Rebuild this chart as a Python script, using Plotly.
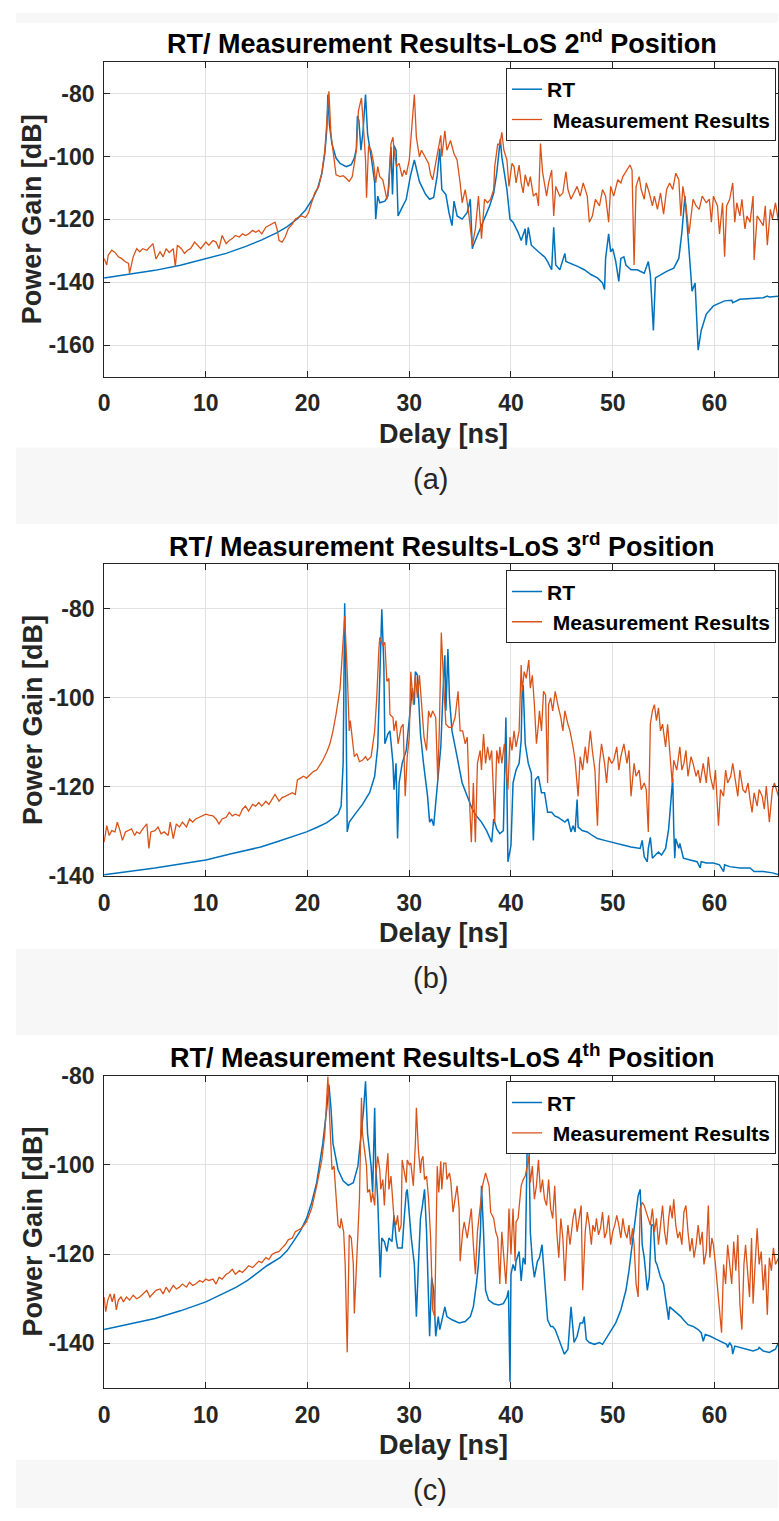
import plotly.graph_objects as go

# ---------------- data (delay in ns, power gain in dB) ----------------
A_RT_DELAY = [0, 2.5, 5, 7.5, 10, 12, 14, 15.5, 17, 18,
              19, 19.8, 20.5, 21, 21.4, 21.7, 21.9, 22.0, 22.15, 22.4,
              22.8, 23.2, 23.8, 24.3, 24.6, 24.8, 24.9, 25.05, 25.25, 25.45,
              25.7, 25.9, 26.3, 26.6, 26.7, 26.9, 27.1, 27.6, 27.9, 28.2,
              28.35, 28.5, 28.7, 28.9, 29.2, 29.7, 30.1, 30.5, 31.0, 31.6,
              32.0, 32.4, 32.75, 33.0, 33.2, 33.6, 33.9, 34.2, 34.4, 34.7,
              35.2, 35.7, 36.0, 36.2, 36.3, 36.8, 37.5, 37.9, 38.3, 38.6,
              38.8, 38.95, 39.1, 39.6, 39.9, 40.2, 40.7, 41.0, 41.4, 41.5,
              41.7, 42.0, 42.7, 43.3, 43.6, 44.0, 44.2, 44.4, 44.8, 45.3,
              45.4, 45.9, 46.6, 47.2, 47.9, 48.5, 49.0, 49.2, 49.3, 49.6,
              49.8, 50.0, 50.3, 50.6, 50.8, 51.1, 51.3, 51.8, 52.4, 53.1,
              53.5, 53.7, 54.0, 54.2, 54.7, 55.3, 56.0, 56.5, 56.8, 57.1,
              57.3, 57.6, 57.8, 58.1, 58.3, 58.4, 58.7, 59.2, 59.9, 60.5,
              61.0, 61.7, 61.8, 62.5, 63.4, 64.8, 65.2, 65.4, 66.3]
A_RT_GAIN = [-138.6, -137.5, -136.2, -134.6, -132.6, -130.8, -128.5, -126.5, -124.2, -122.3,
             -119.8, -117.0, -113.5, -110.0, -105.5, -99.0, -91.0, -80.3, -90.0, -96.0,
             -100.5, -102.2, -103.2, -102.6, -100.5, -97.5, -87.1, -88.6, -98.0, -92.0,
             -80.3, -92.8, -101.1, -108.4, -119.9, -112.6, -114.7, -114.2, -112.6, -97.0,
             -112.1, -96.5, -98.0, -118.9, -116.8, -113.6, -106.4, -101.1, -108.0, -112.0,
             -113.6, -113.0, -106.0, -97.5, -110.5, -112.1, -117.8, -122.0, -114.2, -118.9,
             -119.9, -117.8, -113.6, -129.3, -128.2, -124.1, -118.9, -115.7, -111.6, -105.3,
             -99.1, -94.4, -100.1, -110.5, -119.9, -120.9, -124.1, -126.7, -123.0, -128.2,
             -122.5, -128.2, -130.3, -131.9, -133.4, -136.0, -122.5, -134.5, -136.0, -130.8,
             -133.4, -134.0, -135.0, -136.0, -137.6, -138.6, -140.2, -142.3, -132.4, -124.6,
             -130.3, -129.3, -133.4, -139.7, -132.4, -131.9, -134.5, -136.0, -136.0, -137.1,
             -133.4, -137.6, -155.3, -138.6, -137.6, -136.5, -135.5, -132.4, -124.1, -112.6,
             -120.9, -133.4, -142.8, -140.2, -156.4, -161.6, -155.3, -150.1, -147.5, -146.5,
             -145.9, -145.7, -146.5, -145.4, -145.2, -144.9, -144.4, -144.7, -144.4]

A_MEAS_DELAY = [0, 0.26, 0.4, 0.75, 1.07, 1.4, 1.7, 2.05, 2.4, 2.5,
                2.86, 3.2, 3.5, 3.8, 4.2, 4.5, 4.8, 5.1, 5.5, 5.8,
                6.1, 6.4, 6.8, 7.0, 7.2, 7.6, 7.9, 8.2, 8.5, 8.9,
                9.2, 9.5, 10.0, 10.3, 10.7, 11.0, 11.3, 11.6, 12.0, 12.3,
                12.6, 12.9, 13.3, 13.6, 13.9, 14.2, 14.6, 14.9, 15.2, 15.5,
                15.9, 16.2, 16.5, 16.8, 17.0, 17.2, 17.5, 17.8, 18.1, 18.5,
                18.8, 19.1, 19.4, 19.8, 20.1, 20.4, 20.7, 21.1, 21.4, 21.7,
                21.9, 22.1, 22.3, 22.6, 22.8, 23.2, 23.5, 23.8, 24.1, 24.4,
                24.8, 25.0, 25.3, 25.5, 25.7, 25.8, 26.0, 26.25, 26.5, 26.7,
                26.9, 27.1, 27.4, 27.6, 27.8, 28.0, 28.2, 28.4, 28.5, 28.75,
                29.0, 29.3, 29.5, 29.7, 30.0, 30.2, 30.5, 30.7, 31.0, 31.2,
                31.4, 31.7, 31.9, 32.1, 32.3, 32.6, 32.9, 33.1, 33.2, 33.5,
                33.7, 34.05, 34.4, 34.7, 35.0, 35.2, 35.5, 35.8, 36.2, 36.5,
                36.8, 37.1, 37.4, 37.7, 38.0, 38.3, 38.4, 38.7, 38.9, 39.1,
                39.3, 39.6, 39.8, 40.1, 40.3, 40.5, 40.8, 41.0, 41.2, 41.4,
                41.7, 41.9, 42.2, 42.5, 42.7, 42.9, 43.1, 43.5, 43.7, 44.0,
                44.2, 44.4, 44.8, 45.1, 45.4, 45.6, 45.9, 46.2, 46.5, 46.8,
                47.1, 47.5, 47.7, 48.0, 48.3, 48.7, 49.0, 49.3, 49.6, 49.8,
                50.1, 50.5, 50.8, 51.0, 51.4, 51.7, 51.9, 52.1, 52.3, 52.6,
                52.8, 53.1, 53.3, 53.6, 53.9, 54.1, 54.4, 54.7, 55.0, 55.3,
                55.6, 55.9, 56.2, 56.5, 56.7, 56.9, 57.2, 57.5, 57.9, 58.2,
                58.5, 58.8, 59.2, 59.5, 59.7, 59.9, 60.3, 60.5, 60.8, 61.0,
                61.2, 61.5, 61.8, 62.0, 62.2, 62.5, 62.7, 63.0, 63.2, 63.5,
                63.8, 63.9, 64.2, 64.4, 64.8, 65.0, 65.2, 65.5, 65.7, 66.0,
                66.3]
A_MEAS_GAIN = [-132.4, -134.5, -131.4, -129.8, -130.5, -131.9, -132.4, -133.4, -134.0, -137.1,
               -131.9, -129.3, -130.3, -129.3, -129.8, -128.8, -127.7, -132.6, -130.3, -131.9,
               -129.3, -130.5, -129.3, -135.0, -128.2, -129.3, -130.8, -129.8, -129.3, -127.2,
               -128.2, -129.3, -127.2, -128.2, -126.7, -127.2, -129.3, -125.1, -127.7, -126.7,
               -126.1, -125.1, -125.6, -124.6, -125.1, -124.6, -123.5, -124.1, -123.5, -124.6,
               -122.5, -122.0, -121.5, -120.9, -123.0, -126.7, -127.2, -125.6, -123.0, -121.5,
               -119.9, -119.4, -118.9, -119.4, -117.8, -114.7, -111.6, -109.5, -105.3, -98.0,
               -87.6, -79.3, -92.8, -101.1, -105.8, -106.4, -106.1, -106.9, -107.9, -106.4,
               -98.0, -85.5, -81.4, -90.7, -101.1, -113.1, -96.5, -98.0, -102.2, -108.4,
               -103.2, -106.4, -107.4, -110.5, -113.6, -109.5, -95.9, -93.9, -98.0, -103.2,
               -102.2, -106.4, -104.3, -105.8, -101.1, -92.8, -80.3, -93.9, -100.1, -98.0,
               -99.1, -101.1, -102.2, -105.8, -107.4, -102.0, -97.0, -93.3, -100.1, -91.8,
               -98.0, -94.9, -99.1, -101.1, -108.4, -114.7, -110.5, -116.8, -128.2, -123.0,
               -112.6, -126.1, -113.6, -114.7, -113.6, -110.5, -103.2, -95.9, -96.5, -92.3,
               -98.0, -101.1, -109.5, -102.2, -103.2, -108.4, -102.7, -108.4, -111.6, -105.8,
               -109.5, -106.4, -112.6, -111.6, -115.7, -95.9, -104.8, -112.6, -108.4, -104.3,
               -118.9, -109.5, -112.6, -111.6, -104.8, -110.5, -113.6, -111.6, -109.5, -112.6,
               -108.4, -112.6, -120.9, -118.9, -113.6, -115.7, -110.5, -112.6, -120.9, -109.5,
               -112.6, -107.4, -108.4, -106.4, -104.3, -102.7, -104.3, -134.5, -109.5, -106.4,
               -110.5, -113.6, -108.4, -111.6, -115.7, -112.6, -116.8, -111.6, -118.3, -110.5,
               -108.4, -110.5, -105.3, -107.4, -118.9, -109.5, -115.7, -124.6, -113.6, -115.7,
               -116.8, -112.6, -114.7, -113.6, -120.9, -112.6, -115.7, -124.6, -114.7, -131.9,
               -115.7, -113.6, -108.4, -120.9, -114.7, -118.9, -113.6, -123.0, -118.9, -120.9,
               -112.6, -132.9, -118.9, -119.9, -122.0, -115.7, -128.2, -116.8, -119.9, -114.7,
               -120.9]

B_RT_DELAY = [0, 2.5, 5, 7.5, 10, 12.5, 15.4, 17, 18, 19.9,
              20.9, 21.9, 22.5, 23.0, 23.3, 23.5,
              23.65, 23.75, 23.9, 24.1, 24.8, 25.4, 26.1, 26.6, 26.9, 27.1,
              27.3, 27.5, 27.6, 27.9, 28.1, 28.4, 28.5, 28.7, 28.85, 29.0,
              29.3, 29.7, 30.0, 30.3, 30.5, 30.6, 30.8, 31.1, 31.4, 31.8,
              32.0, 32.2, 32.4, 32.75, 33.1, 33.4, 33.5, 33.6, 33.8, 33.95,
              34.2, 34.7, 35.2, 35.7, 36.2, 36.6, 37.1, 37.6, 38.1, 38.3,
              38.6, 38.9, 39.25, 39.5, 39.6, 39.7, 40.0, 40.2, 40.5, 40.8,
              41.0, 41.1, 41.2, 41.4, 41.7, 42.0, 42.2, 42.4, 42.7, 43.0,
              43.3, 43.6, 44.0, 44.3, 44.6, 44.9, 45.3, 45.6, 45.9, 46.1,
              46.3, 46.5, 46.6, 47.0, 47.5, 48.0, 48.5, 49.2, 49.8, 50.5,
              51.1, 51.8, 52.4, 52.7, 52.9, 53.1, 53.4, 53.5, 53.7, 53.9,
              54.2, 54.5, 54.8, 55.2, 55.5, 55.7, 55.9, 56.0, 56.1, 56.2,
              56.5, 56.6, 56.95, 57.6, 58.3, 58.6, 58.7, 59.2, 59.9, 60.5,
              60.9, 61.0, 61.5, 62.5, 63.5, 63.9, 64.8, 65.7, 66.3]
B_RT_GAIN = [-139.7, -139.0, -138.2, -137.3, -136.4, -135.0, -133.5, -132.3, -131.6, -130.1,
             -129.1, -128.0, -127.0, -126.1, -124.3, -114.7,
             -78.7, -94.1, -130.1, -127.9, -125.7, -123.9, -121.3, -117.6, -111.0, -97.1,
             -80.1, -92.6, -110.3, -108.1, -107.4, -114.7, -120.6, -114.7, -131.6, -119.1,
             -114.7, -111.8, -104.4, -97.8, -101.5, -94.1, -94.9, -108.1, -114.7, -122.1,
             -127.9, -127.2, -128.7, -119.1, -111.0, -94.1, -90.4, -102.9, -89.0, -100.0,
             -107.4, -113.2, -119.1, -122.1, -125.0, -126.5, -127.9, -129.8, -132.4, -127.2,
             -129.4, -130.5, -129.8, -104.4, -122.1, -136.8, -133.1, -119.1, -116.2, -114.7,
             -109.6, -98.5, -97.1, -110.3, -114.7, -116.9, -132.0, -118.4, -117.6, -121.3,
             -121.3, -125.7, -125.7, -126.5, -126.8, -127.2, -127.9, -127.2, -130.1, -128.7,
             -130.1, -122.8, -129.0, -129.8, -130.1, -130.9, -131.6, -132.0, -132.4, -132.7,
             -133.1, -133.5, -133.8, -133.8, -132.0, -135.7, -136.8, -133.8, -131.3, -136.0,
             -135.3, -134.6, -135.3, -133.8, -129.4, -124.3, -118.0, -129.4, -136.0, -131.6,
             -133.8, -132.7, -136.0, -136.4, -136.8, -138.2, -136.8, -137.1, -137.1, -137.5,
             -139.0, -137.5, -137.9, -138.2, -138.2, -139.0, -139.0, -139.3, -139.7]

B_MEAS_DELAY = [0, 0.26, 0.5, 0.75, 1.07, 1.3, 1.56, 1.8, 2.1, 2.4,
                2.7, 3.0, 3.2, 3.5, 3.8, 4.2, 4.4, 4.6, 5.0, 5.3,
                5.6, 5.9, 6.3, 6.5, 6.8, 7.1, 7.4, 7.7, 8.1, 8.4,
                8.7, 9.0, 9.4, 9.7, 10.0, 10.3, 10.7, 11.0, 11.3, 11.6,
                12.0, 12.3, 12.6, 12.9, 13.3, 13.6, 13.9, 14.2, 14.6, 14.9,
                15.2, 15.5, 15.9, 16.2, 16.5, 16.8, 17.2, 17.5, 17.8, 18.1,
                18.5, 18.8, 19.0, 19.3, 19.6, 19.9, 20.2, 20.6, 20.9, 21.2,
                21.5, 21.9, 22.2, 22.5, 22.8, 23.2, 23.4, 23.65, 23.9, 24.1,
                24.2, 24.4, 24.6, 24.85, 25.1, 25.4, 25.7, 25.9, 26.25, 26.6,
                26.8, 27.0, 27.1, 27.4, 27.6, 27.8, 28.0, 28.1, 28.4, 28.5,
                28.7, 28.9, 29.2, 29.4, 29.6, 29.8, 30.0, 30.15, 30.4, 30.6,
                30.8, 31.0, 31.3, 31.45, 31.7, 31.9, 32.1, 32.3, 32.6, 32.8,
                32.95, 33.15, 33.4, 33.6, 33.9, 34.2, 34.5, 34.8, 35.0, 35.25,
                35.5, 35.7, 35.9, 36.1, 36.3, 36.5, 36.7, 36.97, 37.1, 37.3,
                37.5, 37.7, 37.9, 38.1, 38.4, 38.6, 38.8, 38.9, 39.1, 39.35,
                39.6, 39.7, 39.9, 40.1, 40.3, 40.5, 40.8, 41.0, 41.1, 41.3,
                41.5, 41.75, 41.9, 42.1, 42.3, 42.5, 42.7, 42.8, 43.0, 43.2,
                43.4, 43.6, 43.7, 43.9, 44.1, 44.35, 44.6, 44.9, 45.1, 45.3,
                45.6, 45.8, 46.1, 46.3, 46.6, 46.8, 47.05, 47.3, 47.5, 47.8,
                48.0, 48.25, 48.5, 48.7, 48.9, 49.2, 49.4, 49.6, 49.9, 50.1,
                50.4, 50.6, 50.8, 51.1, 51.4, 51.6, 51.8, 52.1, 52.3, 52.6,
                52.8, 53.1, 53.3, 53.5, 53.7, 53.9, 54.1, 54.3, 54.5, 54.7,
                54.9, 55.2, 55.4, 55.7, 55.85, 56.0, 56.3, 56.6, 56.8, 57.0,
                57.2, 57.4, 57.7, 57.9, 58.2, 58.4, 58.6, 58.9, 59.2, 59.4,
                59.6, 59.9, 60.1, 60.4, 60.6, 60.9, 61.1, 61.3, 61.6, 61.8,
                62.1, 62.3, 62.5, 62.8, 63.06, 63.3, 63.5, 63.7, 63.9, 64.2,
                64.4, 64.7, 64.9, 65.1, 65.4, 65.7, 65.9, 66.3]
B_MEAS_GAIN = [-132.4, -128.7, -130.9, -129.8, -130.1, -127.9, -129.8, -132.0, -130.1, -129.8,
               -129.4, -130.9, -130.1, -130.5, -129.4, -128.3, -133.8, -130.1, -129.8, -129.0,
               -130.5, -130.1, -130.9, -127.9, -131.6, -128.3, -129.0, -127.9, -129.0, -127.2,
               -127.9, -127.2, -126.8, -126.5, -126.1, -126.3, -126.5, -127.2, -128.3, -127.2,
               -126.8, -125.7, -126.5, -126.1, -126.5, -125.0, -124.3, -125.4, -123.9, -124.3,
               -123.5, -124.3, -123.2, -123.9, -122.8, -121.7, -123.2, -122.4, -122.1, -121.7,
               -121.3, -121.7, -118.4, -118.0, -117.6, -118.0, -117.3, -116.5, -116.2, -115.1,
               -114.0, -112.1, -110.3, -107.4, -103.7, -97.8, -91.2, -81.6, -94.1, -107.4,
               -105.1, -108.8, -113.2, -112.5, -114.3, -114.0, -113.2, -114.0, -113.2, -107.4,
               -100.0, -89.7, -86.4, -88.2, -87.5, -96.3, -95.6, -103.7, -104.4, -107.4,
               -105.1, -110.3, -106.6, -105.9, -122.1, -113.2, -108.8, -94.1, -101.5, -94.9,
               -100.0, -94.9, -104.4, -108.8, -111.8, -102.9, -104.4, -102.9, -104.4, -118.4,
               -107.4, -85.3, -97.8, -105.9, -106.6, -106.6, -104.4, -98.5, -107.4, -107.4,
               -110.3, -108.8, -122.1, -132.4, -119.1, -132.4, -114.7, -111.8, -116.2, -108.1,
               -114.7, -111.0, -114.0, -111.8, -127.9, -111.8, -114.7, -111.0, -114.7, -110.3,
               -118.4, -120.6, -108.8, -111.8, -107.4, -111.0, -107.4, -92.6, -98.5, -94.1,
               -95.6, -91.5, -97.8, -94.9, -101.5, -110.3, -105.9, -102.9, -107.4, -98.5,
               -99.3, -119.1, -101.5, -100.0, -102.9, -98.5, -101.5, -104.4, -107.4, -102.9,
               -105.9, -107.4, -111.0, -114.0, -122.1, -113.2, -116.2, -111.0, -114.7, -107.4,
               -111.8, -116.2, -128.7, -114.7, -110.3, -114.7, -119.1, -113.2, -114.7, -114.0,
               -111.0, -116.2, -113.2, -110.3, -114.7, -111.8, -122.1, -114.7, -117.6, -116.2,
               -120.6, -119.1, -120.6, -130.1, -105.9, -102.9, -101.5, -105.1, -102.2, -107.4,
               -105.9, -111.0, -105.9, -114.7, -119.1, -114.0, -116.2, -111.0, -116.2, -114.7,
               -111.8, -117.6, -113.2, -114.7, -117.6, -116.2, -119.1, -114.7, -119.1, -113.2,
               -117.6, -120.6, -116.2, -128.7, -120.6, -122.1, -116.2, -119.1, -117.6, -114.7,
               -119.1, -122.1, -116.2, -120.6, -121.3, -119.1, -122.8, -125.7, -121.3, -124.3,
               -120.6, -122.1, -125.0, -119.8, -127.9, -120.6, -119.1, -122.1]

C_RT_DELAY = [0, 2.5, 5, 7.5, 10, 12.1, 13, 14.1, 15.4, 16,
              17.3, 18, 18.6, 19.3, 19.9, 20.4, 20.9, 21.2, 21.5,
              21.9, 22.1, 22.3, 22.5, 23.0, 23.5, 24.0, 24.5, 24.95, 25.3,
              25.5, 25.7, 25.9, 26.25, 26.4, 26.6, 26.7, 26.9, 27.05, 27.15,
              27.3, 27.55, 27.8, 28.0, 28.3, 28.5, 28.7, 28.85, 29.1, 29.3,
              29.5, 29.7, 29.8, 30.0, 30.2, 30.5, 30.7, 30.9, 31.1, 31.3,
              31.5, 31.7, 31.9, 32.0, 32.2, 32.4, 32.6, 32.85, 33.0, 33.2,
              33.5, 33.7, 34.2, 34.9, 35.5, 36.0, 36.3, 36.6, 36.8, 37.0,
              37.1, 37.3, 37.5, 37.8, 38.3, 38.8, 39.25, 39.6, 39.75, 39.9,
              40.0, 40.2, 40.4, 40.5, 40.8, 41.0, 41.2, 41.4, 41.6, 41.75,
              41.9, 42.1, 42.3, 42.6, 42.8, 43.05, 43.3, 43.5, 43.6, 43.9,
              44.1, 44.35, 44.6, 44.9, 45.25, 45.6, 45.7, 45.9, 46.1, 46.2,
              46.5, 46.8, 47.05, 47.2, 47.4, 47.7, 48.2, 48.7, 49.0, 49.2,
              49.5, 49.8, 50.3, 50.8, 51.3, 51.6, 51.9, 52.25, 52.5, 52.7,
              52.9, 53.1, 53.3, 53.4, 53.6, 53.8, 54.0, 54.2, 54.35, 54.7,
              55.0, 55.3, 55.5, 55.6, 55.97, 56.5, 56.7, 56.95, 57.4, 57.9,
              58.4, 58.7, 58.9, 59.1, 59.6, 60.2, 60.9, 61.2, 61.3, 61.5,
              61.7, 61.8, 62.0, 62.5, 63.1, 63.8, 64.3, 64.4, 64.8, 65.4,
              66.0, 66.3]
C_RT_GAIN = [-136.9, -135.7, -134.4, -132.7, -130.7, -128.4, -127.4, -125.9, -123.7, -122.6,
             -120.8, -119.2, -117.2, -114.8, -112.0, -108.5, -104.0, -100.0, -95.2,
             -87.2, -82.0, -87.2, -95.2, -101.1, -103.6, -104.6, -104.0, -100.3, -93.0,
             -87.9, -81.3, -93.0, -100.3, -106.2, -87.2, -100.3, -107.7, -116.4, -125.2,
             -116.4, -117.2, -119.4, -116.4, -117.2, -111.3, -116.4, -118.6, -118.6, -118.6,
             -112.0, -106.2, -105.5, -111.3, -116.4, -122.3, -134.0, -122.3, -112.0, -109.1,
             -105.5, -115.0, -133.3, -138.4, -125.2, -128.1, -138.4, -134.0, -136.9, -134.7,
             -131.8, -134.0, -134.7, -135.4, -135.1, -134.0, -131.8, -126.7, -122.3, -115.0,
             -104.7, -115.0, -128.1, -130.3, -131.1, -131.4, -131.1, -129.6, -128.1, -148.6,
             -124.5, -122.3, -123.7, -121.6, -119.4, -126.0, -120.8, -122.3, -94.5, -93.0,
             -115.0, -121.6, -125.2, -121.6, -120.8, -117.9, -125.2, -131.1, -134.7, -136.2,
             -136.2, -136.9, -138.4, -140.6, -142.4, -141.3, -137.6, -131.8, -136.9, -139.8,
             -138.4, -135.4, -135.4, -134.0, -139.1, -139.8, -140.2, -139.8, -140.2, -139.5,
             -138.4, -137.3, -135.4, -132.5, -128.1, -123.7, -117.9, -112.0, -106.9, -105.5,
             -117.9, -120.8, -125.2, -128.1, -125.2, -113.5, -113.5, -121.6, -122.3, -125.2,
             -126.7, -131.1, -134.7, -131.8, -132.5, -133.6, -134.0, -134.7, -135.8, -136.2,
             -136.9, -137.6, -139.5, -138.0, -138.4, -139.1, -139.8, -140.2, -140.9, -139.8,
             -140.6, -142.4, -140.6, -140.9, -141.3, -141.7, -141.3, -140.9, -141.7, -142.0,
             -141.3, -139.8]

C_MEAS_DELAY = [0, 0.16, 0.36, 0.6, 0.8, 1.0, 1.2, 1.4, 1.66, 1.9,
                2.2, 2.5, 2.86, 3.2, 3.5, 3.8, 4.2, 4.5, 4.8, 5.1,
                5.5, 5.8, 6.1, 6.4, 6.8, 7.1, 7.4, 7.7, 8.1, 8.4,
                8.7, 9.0, 9.4, 9.7, 10.0, 10.3, 10.7, 11.0, 11.3, 11.6,
                12.0, 12.3, 12.6, 12.9, 13.3, 13.6, 13.9, 14.2, 14.6, 14.9,
                15.2, 15.5, 15.9, 16.2, 16.5, 16.8, 17.2, 17.5, 17.8, 18.1,
                18.5, 18.8, 19.1, 19.4, 19.9, 20.4, 20.9, 21.4, 21.7, 21.9,
                22.0, 22.2, 22.4, 22.6, 22.8, 23.0, 23.2, 23.3, 23.55, 23.7,
                23.9, 24.0, 24.1, 24.3, 24.5, 24.6, 24.8, 24.95, 25.1, 25.3,
                25.4, 25.6, 25.8, 25.9, 26.1, 26.25, 26.4, 26.6, 26.7, 26.9,
                27.1, 27.2, 27.4, 27.55, 27.7, 27.9, 28.0, 28.2, 28.4, 28.5,
                28.7, 28.85, 29.0, 29.2, 29.3, 29.5, 29.7, 29.8, 30.0, 30.15,
                30.4, 30.6, 30.7, 30.9, 31.1, 31.2, 31.35, 31.5, 31.7, 31.9,
                32.1, 32.3, 32.5, 32.75, 32.9, 33.1, 33.2, 33.4, 33.6, 33.7,
                33.95, 34.1, 34.3, 34.5, 34.7, 34.9, 35.0, 35.25, 35.4, 35.7,
                35.9, 36.1, 36.3, 36.5, 36.7, 37.0, 37.2, 37.5, 37.65, 37.85,
                38.0, 38.3, 38.5, 38.7, 38.9, 39.1, 39.3, 39.5, 39.7, 39.8,
                40.0, 40.2, 40.4, 40.5, 40.7, 40.9, 41.0, 41.2, 41.4, 41.6,
                41.75, 41.9, 42.1, 42.3, 42.5, 42.7, 42.9, 43.1, 43.3, 43.5,
                43.7, 43.9, 44.1, 44.3, 44.5, 44.7, 44.9, 45.1, 45.3, 45.5,
                45.6, 45.8, 46.1, 46.3, 46.5, 46.7, 46.9, 47.05, 47.3, 47.5,
                47.7, 47.9, 48.05, 48.25, 48.4, 48.6, 48.8, 49.0, 49.2, 49.4,
                49.6, 49.8, 50.0, 50.2, 50.4, 50.6, 50.8, 51.0, 51.2, 51.4,
                51.6, 51.75, 51.95, 52.1, 52.3, 52.5, 52.7, 52.9, 53.1, 53.3,
                53.5, 53.7, 53.9, 54.1, 54.3, 54.5, 54.7, 54.9, 55.1, 55.3,
                55.5, 55.65, 55.85, 56.0, 56.2, 56.4, 56.6, 56.8, 57.0, 57.2,
                57.4, 57.6, 57.8, 58.0, 58.2, 58.4, 58.6, 58.8, 58.97, 59.2,
                59.4, 59.55, 59.75, 59.9, 60.1, 60.3, 60.5, 60.7, 60.9, 61.1,
                61.3, 61.5, 61.7, 61.9, 62.1, 62.3, 62.5, 62.7, 62.9, 63.06,
                63.25, 63.45, 63.65, 63.8, 64.0, 64.2, 64.4, 64.6, 64.8, 65.0,
                65.2, 65.4, 65.6, 65.8, 66.0, 66.3]
C_MEAS_GAIN = [-129.6, -132.9, -130.3, -128.9, -130.7, -128.9, -132.5, -130.3, -129.6, -130.7,
               -129.6, -130.3, -129.2, -130.0, -129.6, -128.9, -128.1, -129.6, -128.9, -128.1,
               -127.8, -128.9, -127.4, -128.5, -127.0, -127.8, -127.4, -126.7, -127.4, -126.3,
               -127.0, -126.7, -125.9, -126.3, -125.6, -125.9, -125.6, -126.7, -125.2, -125.6,
               -124.5, -124.1, -123.4, -124.5, -123.7, -124.1, -123.4, -122.6, -123.0, -122.3,
               -121.6, -121.9, -120.8, -121.2, -120.1, -119.7, -119.4, -118.6, -117.9, -116.8,
               -116.4, -115.0, -114.6, -114.2, -112.8, -109.8, -104.7, -98.9, -93.0, -85.7,
               -80.2, -90.8, -101.1, -100.3, -107.7, -113.5, -114.2, -112.0, -115.0, -122.3,
               -142.0, -129.6, -115.7, -116.4, -122.3, -133.3, -122.3, -116.4, -107.7, -85.0,
               -93.0, -96.7, -100.3, -106.2, -105.5, -108.4, -106.2, -109.1, -102.5, -98.1,
               -101.1, -105.5, -103.3, -109.1, -102.5, -97.4, -105.5, -102.5, -107.7, -112.0,
               -113.5, -111.3, -115.0, -113.5, -98.9, -101.1, -104.0, -98.9, -100.0, -99.6,
               -104.7, -95.2, -87.2, -96.7, -101.8, -98.9, -98.1, -103.3, -102.5, -107.7,
               -116.4, -132.5, -134.0, -100.3, -106.2, -99.2, -105.5, -99.6, -99.6, -103.3,
               -101.8, -104.0, -110.6, -107.7, -104.7, -109.8, -121.6, -115.0, -112.8, -116.4,
               -113.5, -109.8, -117.9, -124.5, -115.0, -109.1, -104.7, -101.8, -103.3, -104.7,
               -110.6, -112.0, -115.0, -116.4, -126.7, -115.0, -120.8, -126.7, -117.9, -109.8,
               -120.1, -109.8, -121.6, -112.8, -112.0, -107.7, -104.7, -103.3, -102.5, -100.3,
               -98.1, -104.0, -100.3, -107.7, -104.7, -98.9, -106.2, -103.3, -107.7, -109.1,
               -103.3, -109.8, -112.0, -104.7, -115.0, -120.8, -112.0, -116.4, -126.0, -116.4,
               -113.5, -117.9, -112.0, -109.8, -115.0, -112.0, -109.1, -128.1, -115.0, -110.6,
               -113.5, -117.9, -113.5, -115.0, -112.0, -115.7, -114.2, -110.6, -116.4, -115.0,
               -111.3, -117.9, -115.0, -113.5, -111.3, -113.5, -116.4, -112.0, -115.0, -116.4,
               -113.5, -117.9, -114.2, -117.9, -126.7, -129.6, -109.8, -108.4, -109.1, -110.6,
               -112.0, -113.5, -109.8, -115.0, -112.0, -117.9, -113.5, -109.1, -115.0, -117.9,
               -112.0, -109.1, -112.0, -107.7, -113.5, -116.4, -115.0, -117.9, -110.6, -109.1,
               -115.0, -119.4, -116.4, -120.8, -117.9, -113.5, -117.9, -115.0, -122.3, -119.4,
               -109.1, -120.8, -116.4, -117.9, -122.3, -126.7, -132.5, -137.6, -122.3, -126.7,
               -117.9, -122.3, -126.7, -117.2, -123.7, -115.7, -131.1, -136.9, -122.3, -117.9,
               -123.7, -129.6, -116.4, -131.1, -122.3, -114.2, -122.3, -119.4, -128.1, -122.3,
               -133.6, -120.8, -123.7, -118.6, -122.3, -120.8]

SERIES_NAMES = ["RT", "\u00a0Measurement Results"]
PANEL_TITLES = [
    "RT/ Measurement Results-LoS 2<sup>nd</sup> Position",
    "RT/ Measurement Results-LoS 3<sup>rd</sup> Position",
    "RT/ Measurement Results-LoS 4<sup>th</sup> Position",
]
PANEL_LABELS = ["(a)", "(b)", "(c)"]
X_TITLE = "Delay [ns]"
Y_TITLE = "Power Gain [dB]"
Y_RANGES = [[-170, -70], [-140, -70], [-150, -80]]
Y_TICKS = [[-160, -140, -120, -100, -80], [-140, -120, -100, -80], [-140, -120, -100, -80]]
X_TICKS = [0, 10, 20, 30, 40, 50, 60]

PANELS = [
    (A_RT_DELAY, A_RT_GAIN, A_MEAS_DELAY, A_MEAS_GAIN),
    (B_RT_DELAY, B_RT_GAIN, B_MEAS_DELAY, B_MEAS_GAIN),
    (C_RT_DELAY, C_RT_GAIN, C_MEAS_DELAY, C_MEAS_GAIN),
]

# ---------------- layout geometry (pixels) ----------------
W, H = 779, 1521
PLOT_LEFT = 99
PLOT_TOP = [50, 561, 1081]
PLOT_BOTTOM = [370, 878, 1399]
X_RANGE = [0, 66.25]

FONT = "Liberation Sans, Arial, Helvetica, sans-serif"
TXT = "#262626"
C_RT = "#0072BD"
C_MEAS = "#D95319"


def fx(px):
    return px / W


def fy(py):
    return 1 - py / H


fig = go.Figure()
layout = dict(
    width=W, height=H,
    margin=dict(l=0, r=0, t=0, b=0),
    paper_bgcolor="white", plot_bgcolor="white",
    font=dict(family=FONT, color=TXT),
    annotations=[], shapes=[],
)

# light grey bands behind the sub-figure captions
for y0, y1 in [(0, 10), (442, 520), (952, 1040), (1472, 1521)]:
    layout["shapes"].append(dict(type="rect", xref="paper", yref="paper",
                                 x0=fx(10), x1=1, y0=fy(y1), y1=fy(y0),
                                 fillcolor="#f7f7f7", line=dict(width=0), layer="below"))

for i, (rd, rg, md, mg) in enumerate(PANELS):
    sfx = "" if i == 0 else str(i + 1)
    xa, ya, lg = "x" + sfx, "y" + sfx, "legend" + sfx
    fig.add_trace(go.Scatter(x=rd, y=rg, mode="lines", name=SERIES_NAMES[0],
                             line=dict(color=C_RT, width=1.5),
                             xaxis=xa, yaxis=ya, legend=lg))
    fig.add_trace(go.Scatter(x=md, y=mg, mode="lines", name=SERIES_NAMES[1],
                             line=dict(color=C_MEAS, width=1.3),
                             xaxis=xa, yaxis=ya, legend=lg))
    top, bot = PLOT_TOP[i], PLOT_BOTTOM[i]
    layout["xaxis" + sfx] = dict(
        domain=[fx(PLOT_LEFT), 1], anchor=ya, range=X_RANGE,
        tickvals=X_TICKS, ticktext=[str(v) for v in X_TICKS],
        showgrid=True, gridcolor="#e1e1e1", gridwidth=1, zeroline=False,
        showline=True, linecolor=TXT, linewidth=1, mirror="ticks",
        ticks="inside", ticklen=6, tickcolor=TXT, ticklabelstandoff=6,
        tickfont=dict(family=FONT, size=23, color=TXT, weight="bold"),
    )
    layout["yaxis" + sfx] = dict(
        domain=[fy(bot), fy(top)], anchor=xa, range=Y_RANGES[i],
        tickvals=Y_TICKS[i], ticktext=["-" + str(abs(v)) for v in Y_TICKS[i]],
        showgrid=True, gridcolor="#e1e1e1", gridwidth=1, zeroline=False,
        showline=True, linecolor=TXT, linewidth=1, mirror="ticks",
        ticks="inside", ticklen=6, tickcolor=TXT, ticklabelstandoff=4,
        tickfont=dict(family=FONT, size=23, color=TXT, weight="bold"),
    )
    layout[lg] = dict(
        x=fx(777), xanchor="right", y=fy(top + 6), yanchor="top",
        bgcolor="white", bordercolor=TXT, borderwidth=1,
        font=dict(family=FONT, size=21, color="black", weight="bold"),
        itemwidth=30, tracegroupgap=0,
    )
    ann = layout["annotations"]
    ann.append(dict(text="<b>" + PANEL_TITLES[i] + "</b>", x=fx(440), y=fy(top - 20),
                    xref="paper", yref="paper", showarrow=False,
                    font=dict(family=FONT, size=27, color="black"),
                    xanchor="center", yanchor="middle"))
    ann.append(dict(text="<b>" + X_TITLE + "</b>", x=fx(441), y=fy(bot + 58),
                    xref="paper", yref="paper", showarrow=False,
                    font=dict(family=FONT, size=27, color=TXT),
                    xanchor="center", yanchor="middle"))
    ann.append(dict(text="<b>" + Y_TITLE + "</b>", x=fx(27), y=fy((top + bot) / 2),
                    xref="paper", yref="paper", showarrow=False, textangle=-90,
                    font=dict(family=FONT, size=27, color=TXT),
                    xanchor="center", yanchor="middle"))
    ann.append(dict(text=PANEL_LABELS[i], x=fx(428), y=fy(bot + 104),
                    xref="paper", yref="paper", showarrow=False,
                    font=dict(family=FONT, size=29, color=TXT),
                    xanchor="center", yanchor="middle"))

fig.update_layout(**layout)
fig.write_html("out.html", config={"displayModeBar": False},
               post_script="document.body.style.margin='0';")
